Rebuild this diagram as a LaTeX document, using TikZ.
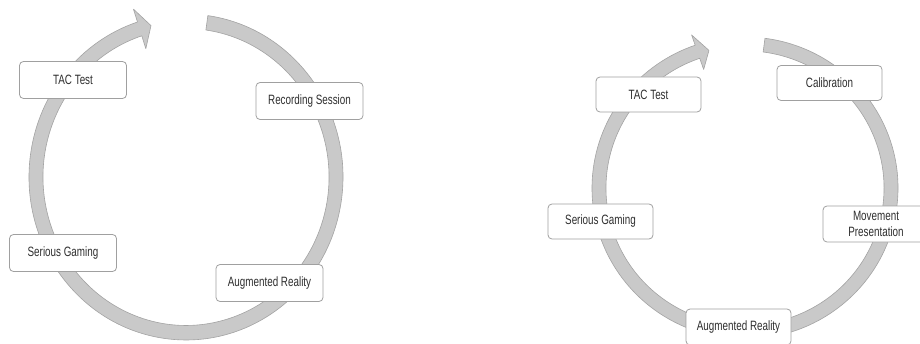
\documentclass[tikz,border=0pt]{standalone}
\usepackage{fontspec}
\setmainfont{Liberation Sans}[FakeStretch=0.73]
\definecolor{ringfill}{HTML}{C9C9C9}
\definecolor{ringline}{HTML}{A3A3A3}
\definecolor{boxline}{HTML}{A0A0A0}
\definecolor{txt}{HTML}{2E2E2E}
\tikzset{
  ring/.style={fill=ringfill, draw=ringline, line width=0.6pt, line join=round},
  stagebox/.style={draw=boxline, fill=white, rounded corners=4pt, line width=0.8pt,
    minimum width=107pt, minimum height=37pt, inner sep=2pt, align=center,
    text=txt, font=\fontsize{13.5}{16.5}\selectfont},
}
\begin{document}
\begin{tikzpicture}[x=1pt,y=1pt]
\useasboundingbox (0,0) rectangle (920,343);
\clip (0,0) rectangle (920,343);
\fill[white] (0,0) rectangle (920,343);

% left cycle ring
\begin{scope}[shift={(186,166)}, yscale=1.038]
  \path[ring] (82:157pt) arc[start angle=82, end angle=-252, radius=157pt]
    -- (-252:170pt) -- (-256.5:150pt) -- (-252:130pt) -- (-252:143pt)
    arc[start angle=-252, end angle=82, radius=143pt] -- cycle;
\end{scope}

% right cycle ring
\begin{scope}[shift={(745,155)}, yscale=0.987]
  \path[ring] (82.5:153pt) arc[start angle=82.5, end angle=-251, radius=153pt]
    -- (-251:164pt) -- (-255.5:144pt) -- (-251:127pt) -- (-251:139pt)
    arc[start angle=-251, end angle=82.5, radius=139pt] -- cycle;
\end{scope}

% left nodes
\node[stagebox] (tac1) at (73,263) {TAC Test};
\node[stagebox] (rec1) at (309.5,242) {Recording Session};
\node[stagebox] (ser1) at (63,90) {Serious Gaming};
\node[stagebox] (aug1) at (269.5,60) {Augmented Reality};

% right nodes
\node[stagebox, minimum width=105pt, minimum height=35pt] (tac2) at (648.5,248.5) {TAC Test};
\node[stagebox, minimum width=105pt, minimum height=35pt] (cal2) at (829.5,260) {Calibration};
\node[stagebox, minimum width=105pt, minimum height=35pt] (ser2) at (600.5,121.5) {Serious Gaming};
\node[stagebox, minimum width=106pt, minimum height=36pt] (mov2) at (876,119) {Movement\\Presentation};
\node[stagebox, minimum width=105pt, minimum height=36pt] (aug2) at (738.5,16) {Augmented Reality};
\end{tikzpicture}
\end{document}
